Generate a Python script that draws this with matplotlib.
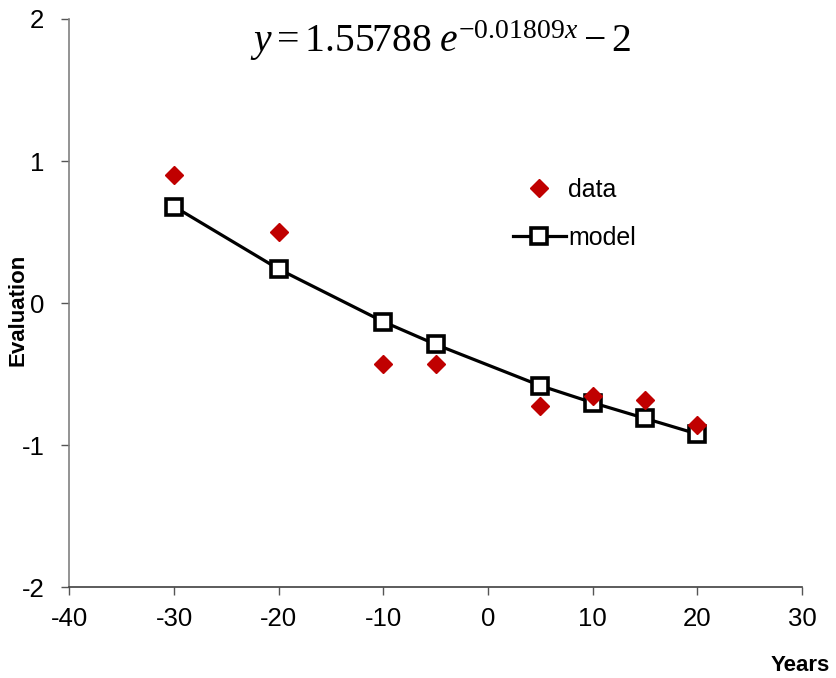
import matplotlib.pyplot as plt

plt.rcParams['font.family'] = ['Liberation Sans', 'DejaVu Sans']
plt.rcParams['axes.unicode_minus'] = False
plt.rcParams['mathtext.fontset'] = 'custom'
plt.rcParams['mathtext.rm'] = 'Liberation Serif'
plt.rcParams['mathtext.it'] = 'Liberation Serif:italic'

# observed data
years = [-30, -20, -10, -5, 5, 10, 15, 20]
data_vals = [0.90, 0.50, -0.43, -0.43, -0.725, -0.65, -0.68, -0.86]

# model values at the same years
model_vals = [0.68, 0.24, -0.13, -0.29, -0.58, -0.70, -0.81, -0.92]

x_ticks = [-40, -30, -20, -10, 0, 10, 20, 30]
y_ticks = [-2, -1, 0, 1, 2]

fig = plt.figure(figsize=(8.36, 6.78), dpi=100)
ax = fig.add_axes([0.0831, 0.1335, 0.8762, 0.8385])

ax.plot(years, model_vals, color='black', linewidth=2.3, marker='s',
        markersize=11.5, markerfacecolor='white', markeredgecolor='black',
        markeredgewidth=2.6, label='model', zorder=2)
ax.plot(years, data_vals, linestyle='none', marker='D', markersize=9.5,
        color='#C00000', label='data', zorder=3)

ax.set_xlim(-40, 30)
ax.set_ylim(-2, 2)
ax.set_xticks(x_ticks)
ax.set_yticks(y_ticks)
ax.tick_params(axis='both', labelsize=18.5, length=6, width=1, color='#555555',
               direction='out')
ax.tick_params(axis='x', pad=8)
ax.tick_params(axis='y', pad=12)

for side in ['top', 'right']:
    ax.spines[side].set_visible(False)
ax.spines['left'].set_color('#808080')
ax.spines['bottom'].set_color('#404040')
ax.spines['left'].set_linewidth(1.2)
ax.spines['bottom'].set_linewidth(1.2)

fig.text(0.021, 0.543, 'Evaluation', rotation=90, fontsize=16,
         fontweight='bold', ha='center', va='center')
fig.text(0.957, 0.019, 'Years', fontsize=16, fontweight='bold',
         ha='center', va='center')

ax.text(0.527, 0.94, r'$y=1.55788\;e^{-0.01809x}-2$', transform=fig.transFigure,
        fontsize=28.5, ha='center', va='center')

handles, labels = ax.get_legend_handles_labels()
ax.legend(handles[::-1], labels[::-1], loc='upper left',
          bbox_to_anchor=(0.575, 0.76), frameon=False, fontsize=18,
          handlelength=2.1, handletextpad=0.1, labelspacing=0.95)

fig.savefig('out.png', dpi=100)
